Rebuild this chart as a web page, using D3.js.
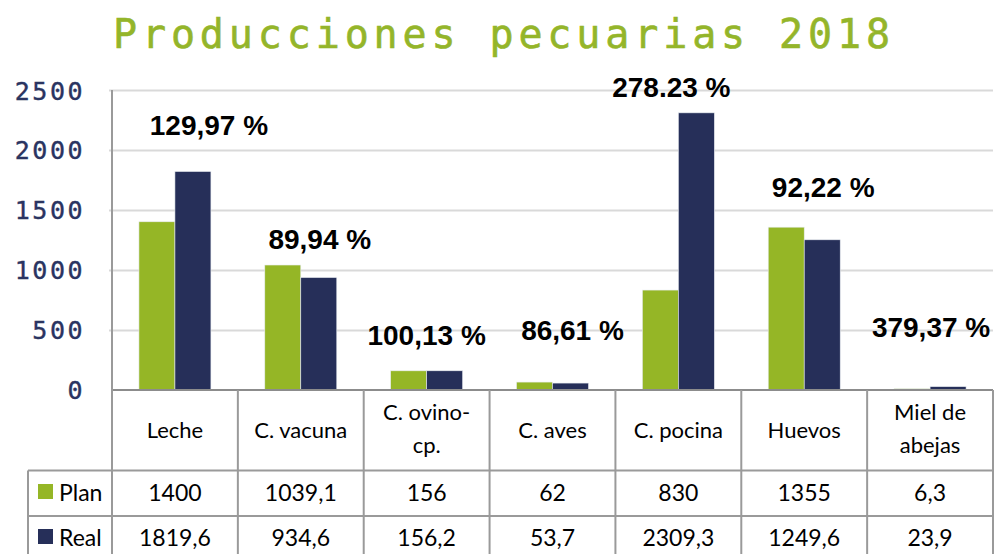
<!DOCTYPE html>
<html>
<head>
<meta charset="utf-8">
<script src="https://cdn.jsdelivr.net/npm/d3@7"></script>
<style>
  body { margin: 0; background: #fff; }
  svg { display: block; }
</style>
</head>
<body>
<div id="chart"></div>
<script>
// data
const categories = ["Leche", "C. vacuna", "C. ovino-cp.", "C. aves", "C. pocina", "Huevos", "Miel de abejas"]
const headerLines = [["Leche"], ["C. vacuna"], ["C. ovino-", "cp."], ["C. aves"], ["C. pocina"], ["Huevos"], ["Miel de", "abejas"]]
const series = ["Plan", "Real"]
const plan = [1400, 1039.1, 156, 62, 830, 1355, 6.3]
const real = [1819.6, 934.6, 156.2, 53.7, 2309.3, 1249.6, 23.9]
const planText = ["1400", "1039,1", "156", "62", "830", "1355", "6,3"]
const realText = ["1819,6", "934,6", "156,2", "53,7", "2309,3", "1249,6", "23,9"]
const pctLabels = ["129,97 %", "89,94 %", "100,13 %", "86,61 %", "278.23 %", "92,22 %", "379,37 %"]
const yTicks = [0, 500, 1000, 1500, 2000, 2500]

const colors = { Plan: "#95b626", Real: "#262f59" }

;(function() {
    const width = 997
    const height = 554

    const svg = d3.select("#chart")
        .append("svg")
        .attr("width", width)
        .attr("height", height)

    const left = 112, right = 993
    const y = d3.scaleLinear().domain([0, 2500]).range([389.5, 90])
    const x = d3.scaleBand().domain(categories).range([left, right])
    const xs = d3.scaleBand().domain(series).range([0, x.bandwidth() * 0.572])
    const groupOff = (x.bandwidth() - xs.range()[1]) / 2

    // title
    svg.append("text")
        .attr("x", 113).attr("y", 48)
        .attr("textLength", 777).attr("lengthAdjust", "spacing")
        .style("font-family", "DejaVu Sans Mono")
        .style("font-size", "40px")
        .style("fill", "#94b52a")
        .style("stroke", "#94b52a").style("stroke-width", 0.6)
        .text("Producciones pecuarias 2018")

    // gridlines
    svg.append("g").selectAll("line")
        .data(yTicks.filter(d => d > 0))
        .join("line")
        .attr("x1", left - 3).attr("x2", right)
        .attr("y1", d => Math.round(y(d)) + 0.5).attr("y2", d => Math.round(y(d)) + 0.5)
        .attr("stroke", "#d9d9d9").attr("stroke-width", 2)

    // y tick labels
    svg.append("g").selectAll("text")
        .data(yTicks)
        .join("text")
        .attr("x", 85).attr("y", d => y(d) + 9.5)
        .attr("text-anchor", "end")
        .style("font-family", "DejaVu Sans Mono")
        .style("font-size", "25px")
        .style("letter-spacing", "2.5px")
        .style("fill", "#2a3461")
        .style("stroke", "#2a3461").style("stroke-width", 0.4)
        .text(d => d)

    // bars
    const rows = categories.map((c, i) => ({ cat: c, Plan: plan[i], Real: real[i] }))
    svg.append("g").selectAll("g")
        .data(rows)
        .join("g")
        .attr("transform", d => `translate(${x(d.cat) + groupOff},0)`)
        .selectAll("rect")
        .data(d => series.map(s => ({ s: s, v: d[s] })))
        .join("rect")
        .attr("x", d => xs(d.s))
        .attr("width", xs.bandwidth())
        .attr("y", d => y(d.v))
        .attr("height", d => y(0) - y(d.v))
        .attr("fill", d => colors[d.s])
        .attr("stroke", "#e8ecf0").attr("stroke-width", 0.6)

    // percentage labels (placed by hand in the original): [dx from column centre, y value]
    const labelPlace = [[34, 2128], [19, 1170], [0, 372], [20, 415], [-7, 2442], [19, 1608], [1, 439]]
    svg.append("g").selectAll("text")
        .data(pctLabels)
        .join("text")
        .attr("x", (d, i) => x(categories[i]) + x.bandwidth() / 2 + labelPlace[i][0])
        .attr("y", (d, i) => y(labelPlace[i][1]))
        .attr("text-anchor", "middle")
        .style("font-family", "Liberation Sans, Arial, sans-serif")
        .style("font-weight", "bold")
        .style("font-size", "28px")
        .style("fill", "#000")
        .text(d => d)

    // data table
    const top = 390, headBottom = 470.5, rowH = 45.5, legLeft = 28
    const tbl = svg.append("g")
    const gridColor = "#9a9a9a"

    // horizontal lines
    tbl.append("line").attr("x1", left).attr("x2", right).attr("y1", top).attr("y2", top)
        .attr("stroke", "#8c8c8c").attr("stroke-width", 2)
    ;[headBottom, headBottom + rowH, headBottom + 2 * rowH].forEach(yy => {
        tbl.append("line").attr("x1", legLeft).attr("x2", right).attr("y1", yy).attr("y2", yy)
            .attr("stroke", gridColor).attr("stroke-width", 2)
    })
    // y axis line
    tbl.append("line").attr("x1", left).attr("x2", left).attr("y1", 90).attr("y2", height)
        .attr("stroke", gridColor).attr("stroke-width", 2)
    // column dividers
    tbl.selectAll(".div")
        .data(categories)
        .join("line")
        .attr("class", "div")
        .attr("x1", d => x(d) + x.bandwidth()).attr("x2", d => x(d) + x.bandwidth())
        .attr("y1", top).attr("y2", height)
        .attr("stroke", gridColor).attr("stroke-width", 2)
    tbl.append("line").attr("x1", legLeft).attr("x2", legLeft).attr("y1", headBottom).attr("y2", height)
        .attr("stroke", gridColor).attr("stroke-width", 2)

    const cellFont = "Lato, 'Open Sans', sans-serif"

    // header cells
    tbl.selectAll(".head")
        .data(headerLines)
        .join("text")
        .attr("class", "head")
        .attr("x", (d, i) => x(categories[i]) + x.bandwidth() / 2)
        .attr("y", d => d.length === 1 ? 438 : 420)
        .attr("text-anchor", "middle")
        .style("font-family", cellFont)
        .style("font-size", "22px")
        .style("fill", "#000")
        .selectAll("tspan")
        .data(d => d)
        .join("tspan")
        .attr("x", function() { return d3.select(this.parentNode).attr("x") })
        .attr("dy", (d, i) => i === 0 ? 0 : 33)
        .text(d => d)

    // value rows
    const valueRows = [planText, realText]
    valueRows.forEach((vals, r) => {
        tbl.append("g").selectAll("text")
            .data(vals)
            .join("text")
            .attr("x", (d, i) => x(categories[i]) + x.bandwidth() / 2)
            .attr("y", 501 + r * 44.5)
            .attr("text-anchor", "middle")
            .style("font-family", cellFont)
            .style("font-size", "23px")
            .style("fill", "#000")
            .text(d => d)
    })

    // legend keys inside the table
    series.forEach((s, r) => {
        tbl.append("rect")
            .attr("x", 38).attr("y", 484 + r * 45)
            .attr("width", 15).attr("height", 15)
            .attr("fill", colors[s])
        tbl.append("text")
            .attr("x", 59).attr("y", 501 + r * 44.5)
            .style("font-family", cellFont)
            .style("font-size", "23px")
            .style("fill", "#000")
            .text(s)
    })
})();
</script>
</body>
</html>
